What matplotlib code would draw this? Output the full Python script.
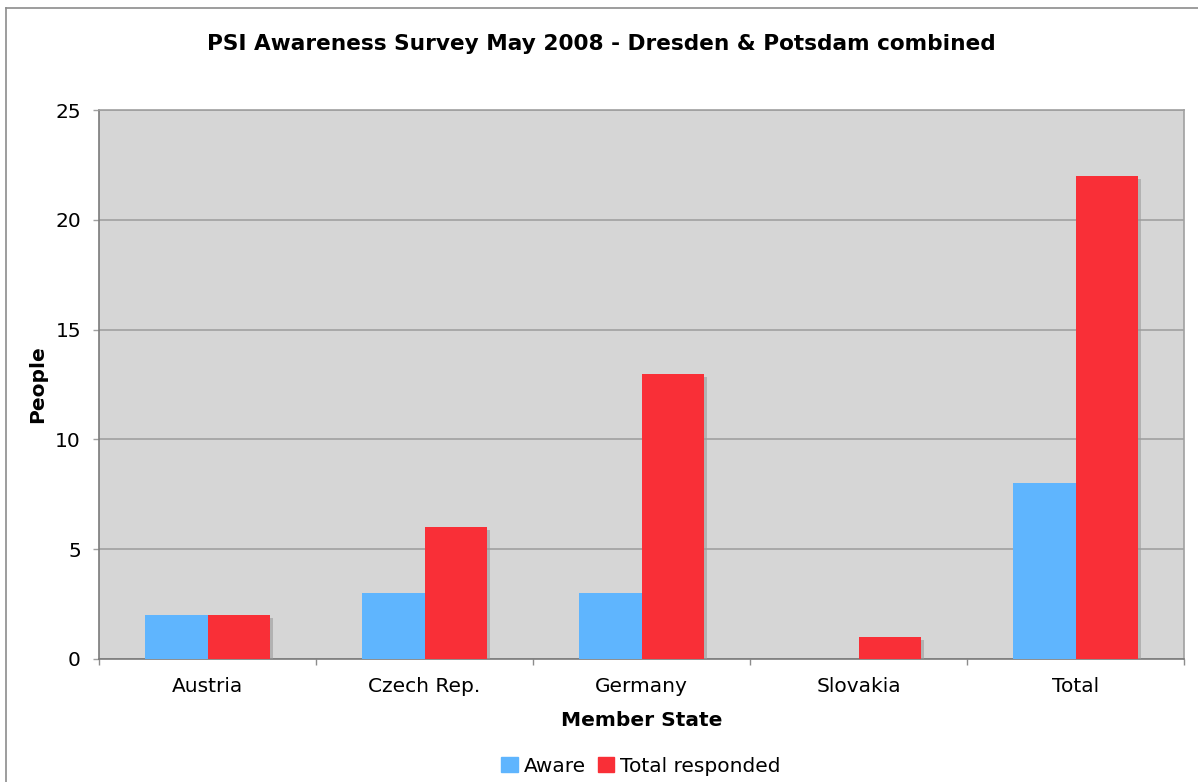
import numpy as np
import matplotlib
matplotlib.use('Agg')
import matplotlib.pyplot as plt
import matplotlib.patheffects as pe
from matplotlib.lines import Line2D
from matplotlib.patches import Patch

# PSI awareness survey, bar chart with two series per member state

categories = ['Austria', 'Czech Rep.', 'Germany', 'Slovakia', 'Total']
aware = [2, 3, 3, 0, 8]
total_responded = [2, 6, 13, 1, 22]

blue = '#5fb5fe'
red = '#f92f37'
W, H = 1198, 782

plt.rcParams['font.family'] = ['DejaVu Sans']

fig = plt.figure(figsize=(W / 100, H / 100), dpi=100)
fig.patch.set_facecolor('white')

# outer frame of the chart (left and top edges visible)
fig.add_artist(Line2D([6 / W, 6 / W], [0, 1 - 8 / H], color='#8c8c8c', lw=1.2))
fig.add_artist(Line2D([6 / W, 1], [1 - 8 / H, 1 - 8 / H], color='#8c8c8c', lw=1.2))

left, right, top, bottom = 99, 1184, 110, 659
ax = fig.add_axes([left / W, 1 - bottom / H, (right - left) / W, (bottom - top) / H])
ax.set_facecolor('#d6d6d6')

x = np.arange(len(categories))
bw = 0.286
shadow = [pe.SimplePatchShadow(offset=(2.2, -2.2), shadow_rgbFace='#9a9a9a', alpha=0.6), pe.Normal()]
b1 = ax.bar(x - bw / 2, aware, bw, color=blue, zorder=3)
b2 = ax.bar(x + bw / 2, total_responded, bw, color=red, zorder=3)
for b in list(b1) + list(b2):
    if b.get_height() > 0:
        b.set_path_effects(shadow)

ax.set_xlim(-0.5, len(categories) - 0.5)
ax.set_ylim(0, 25)
ax.set_yticks(range(0, 26, 5))
ax.yaxis.grid(True, color='#a0a0a0', lw=1.2, zorder=1)
ax.set_axisbelow(True)

ax.set_xticks(x)
ax.set_xticklabels(categories, fontsize=14.5)
ax.set_xticks(np.arange(-0.5, len(categories), 1.0), minor=True)
ax.tick_params(axis='x', which='major', length=0, pad=13)
ax.tick_params(axis='x', which='minor', length=4.5, color='#8c8c8c', width=1)
ax.tick_params(axis='y', length=4.5, color='#a0a0a0', width=1, labelsize=14.5, pad=8.5)

for s in ['left', 'bottom']:
    ax.spines[s].set_color('#7a7a7a')
    ax.spines[s].set_linewidth(1.2)
for s in ['top', 'right']:
    ax.spines[s].set_color('#a0a0a0')
    ax.spines[s].set_linewidth(1.2)

ax.set_xlabel('Member State', fontsize=14.5, fontweight='bold')
ax.xaxis.set_label_coords(0.5, -(720 - bottom) / (bottom - top), transform=ax.transAxes)
ax.set_ylabel('People', fontsize=14.5, fontweight='bold')
ax.yaxis.set_label_coords(-(left - 38) / (right - left), 0.5, transform=ax.transAxes)
ax.yaxis.label.set_va('center')
ax.xaxis.label.set_va('center')

fig.text(601 / W, 1 - 44 / H, 'PSI Awareness Survey May 2008 - Dresden & Potsdam combined',
         ha='center', va='center', fontsize=15.6, fontweight='bold')

handles = [Patch(color=blue, label='Aware'), Patch(color=red, label='Total responded')]
fig.legend(handles=handles, loc='center', bbox_to_anchor=(641 / W, 1 - 766 / H), ncol=2,
           frameon=False, fontsize=14.5, handlelength=0.8, handleheight=0.8,
           handletextpad=0.3, columnspacing=0.6, borderpad=0)

fig.savefig('out.png', dpi=100)
